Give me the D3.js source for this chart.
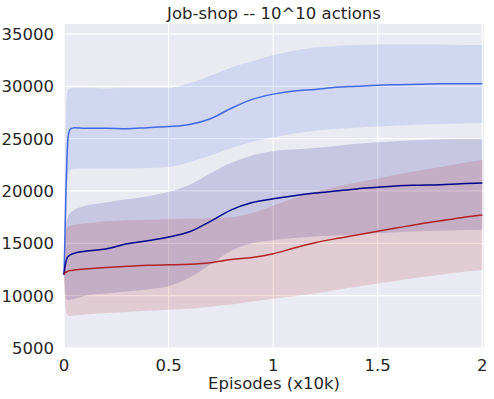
<!DOCTYPE html>
<html>
<head>
<meta charset="utf-8">
<script src="https://cdn.jsdelivr.net/npm/d3@7"></script>
<style>
body { margin: 0; background: #ffffff; }
text { font-family: "DejaVu Sans", sans-serif; fill: #262626; }
</style>
</head>
<body>
<div id="chart"></div>
<script>
// episodes (x10k)
var episodes = [0, 0.005, 0.01, 0.015, 0.02, 0.03, 0.05, 0.1, 0.2, 0.3, 0.4, 0.5, 0.6, 0.7, 0.8, 0.9, 1.0, 1.1, 1.2, 1.3, 1.4, 1.5, 1.6, 1.7, 1.8, 1.9, 2.0];

var royalMean  = [12000, 16000, 20500, 23500, 25200, 25900, 26050, 26000, 26000, 25950, 26050, 26150, 26350, 26900, 27900, 28750, 29250, 29550, 29700, 29900, 30000, 30100, 30150, 30200, 30250, 30250, 30250];
var royalUpper = [12000, 22000, 27500, 29300, 29700, 29800, 29850, 29850, 29800, 29850, 29850, 29850, 30300, 31000, 31800, 32400, 33000, 33400, 33700, 33850, 33950, 34000, 34000, 34000, 34000, 33950, 33950];
var royalLower = [12000, 14000, 17500, 20000, 21500, 22000, 22150, 22150, 22150, 22150, 22200, 22300, 22750, 23400, 24100, 24700, 25100, 25500, 25750, 25950, 26050, 26150, 26250, 26350, 26400, 26450, 26500];

var navyMean  = [12000, 12800, 13300, 13600, 13750, 13900, 14050, 14250, 14450, 14950, 15250, 15600, 16100, 17100, 18200, 18900, 19250, 19550, 19800, 20000, 20200, 20350, 20500, 20550, 20600, 20700, 20750];
var navyUpper = [12000, 15000, 16800, 17300, 17600, 17900, 18200, 18600, 18900, 19200, 19500, 19900, 20600, 21700, 22700, 23400, 23800, 23950, 24100, 24300, 24500, 24650, 24780, 24880, 24950, 24980, 25000];
var navyLower = [12000, 10500, 9800, 9600, 9550, 9600, 9700, 10000, 10200, 10400, 10600, 10900, 11700, 13000, 14300, 15000, 15300, 15500, 15650, 15750, 15850, 15950, 16050, 16150, 16200, 16250, 16300];

var redMean  = [12000, 12150, 12250, 12300, 12350, 12400, 12450, 12550, 12700, 12800, 12900, 12950, 13000, 13150, 13450, 13650, 14000, 14550, 15050, 15450, 15800, 16150, 16500, 16850, 17150, 17450, 17700];
var redUpper = [12000, 15000, 16200, 16500, 16600, 16700, 16800, 16900, 17100, 17200, 17250, 17300, 17350, 17400, 17500, 17900, 18600, 19300, 19900, 20400, 20800, 21200, 21600, 21950, 22300, 22650, 22950];
var redLower = [12000, 9500, 8500, 8200, 8100, 8050, 8100, 8200, 8350, 8450, 8550, 8650, 8750, 8950, 9150, 9450, 9700, 9950, 10200, 10550, 10850, 11150, 11450, 11750, 12000, 12250, 12450];

var xTicks = [0, 0.5, 1, 1.5, 2];
var xTickLabels = ["0", "0.5", "1", "1.5", "2"];
var yTicks = [5000, 10000, 15000, 20000, 25000, 30000, 35000];

var w = 494, h = 399;
var plotLeft = 64, plotRight = 484, plotTop = 24, plotBottom = 348;
var fontSize = "16.5px";

var svg = d3.select("#chart")
    .append("svg")
    .attr("width", w)
    .attr("height", h);

var xScale = d3.scaleLinear()
    .domain([0, 2.008])
    .range([plotLeft, plotRight]);

var yScale = d3.scaleLinear()
    .domain([5000, 35950])
    .range([plotBottom, plotTop]);

svg.append("rect")
    .attr("x", plotLeft)
    .attr("y", plotTop)
    .attr("width", plotRight - plotLeft)
    .attr("height", plotBottom - plotTop)
    .attr("fill", "#eaeaf2");

// grid
svg.selectAll("xgrid")
    .data(xTicks)
    .enter()
    .append("line")
    .attr("x1", function(d){ return xScale(d); })
    .attr("x2", function(d){ return xScale(d); })
    .attr("y1", plotTop)
    .attr("y2", plotBottom)
    .attr("stroke", "#ffffff")
    .attr("stroke-width", 1.2);

svg.selectAll("ygrid")
    .data(yTicks)
    .enter()
    .append("line")
    .attr("x1", plotLeft)
    .attr("x2", plotRight)
    .attr("y1", function(d){ return yScale(d); })
    .attr("y2", function(d){ return yScale(d); })
    .attr("stroke", "#ffffff")
    .attr("stroke-width", 1.2);

var series = [
    {mean: royalMean, upper: royalUpper, lower: royalLower, color: "#4169e1"},
    {mean: navyMean, upper: navyUpper, lower: navyLower, color: "#00008b"},
    {mean: redMean, upper: redUpper, lower: redLower, color: "#b22222"}
];

var area = d3.area()
    .x(function(d){ return xScale(d.x); })
    .y0(function(d){ return yScale(d.lo); })
    .y1(function(d){ return yScale(d.hi); })
    .curve(d3.curveMonotoneX);

var line = d3.line()
    .x(function(d){ return xScale(d.x); })
    .y(function(d){ return yScale(d.y); })
    .curve(d3.curveMonotoneX);

series.forEach(function(s){
    let pts = episodes.map(function(x, i){
        return {x: x, y: s.mean[i], lo: s.lower[i], hi: s.upper[i]};
    });
    svg.append("path")
        .attr("d", area(pts))
        .attr("fill", s.color)
        .attr("fill-opacity", 0.15);
    s.pts = pts;
});

series.forEach(function(s){
    svg.append("path")
        .attr("d", line(s.pts))
        .attr("fill", "none")
        .attr("stroke", s.color)
        .attr("stroke-width", 1.5);
});

// tick labels
svg.selectAll("xlab")
    .data(xTicks)
    .enter()
    .append("text")
    .attr("x", function(d){ return xScale(d); })
    .attr("y", 371)
    .style("text-anchor", "middle")
    .style("font-size", fontSize)
    .text(function(d, i){ return xTickLabels[i]; });

svg.selectAll("ylab")
    .data(yTicks)
    .enter()
    .append("text")
    .attr("x", 54)
    .attr("y", function(d){ return yScale(d); })
    .attr("dy", "0.36em")
    .style("text-anchor", "end")
    .style("font-size", fontSize)
    .text(function(d){ return d; });

svg.append("text")
    .attr("x", (plotLeft + plotRight) / 2)
    .attr("y", 19)
    .style("text-anchor", "middle")
    .style("font-size", fontSize)
    .text("Job-shop -- 10^10 actions");

svg.append("text")
    .attr("x", (plotLeft + plotRight) / 2)
    .attr("y", 389)
    .style("text-anchor", "middle")
    .style("font-size", fontSize)
    .text("Episodes (x10k)");
</script>
</body>
</html>
